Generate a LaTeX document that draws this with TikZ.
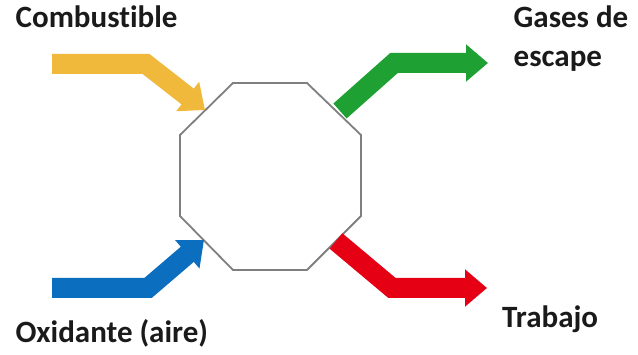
\documentclass[tikz,border=0pt]{standalone}
\usepackage{fontspec}
\setmainfont{Carlito}[Ligatures=NoCommon]
\usetikzlibrary{arrows.meta}
\definecolor{cyellow}{HTML}{F0B93C}
\definecolor{cblue}{HTML}{0B6EBE}
\definecolor{cgreen}{HTML}{1EA032}
\definecolor{cred}{HTML}{E60014}
\definecolor{octgray}{HTML}{7F7F7F}
\definecolor{txt}{HTML}{1A1A1A}
\begin{document}
\begin{tikzpicture}[x=1pt,y=-1pt,
  flow/.style={line width=20pt, line join=miter, -{Triangle[length=22pt,width=36pt]}},
  octo/.style={draw=octgray, line width=1.8pt, line join=miter},
  lbl/.style={font=\fontsize{31}{39}\selectfont\bfseries, text=txt, inner sep=0pt, anchor=base west, align=left}]
\useasboundingbox (0,0) rectangle (638,355);
% octagon
\coordinate (o1) at (233,83);
\coordinate (o2) at (307,83);
\coordinate (o3) at (361,135);
\coordinate (o4) at (361,216);
\coordinate (o5) at (307,270);
\coordinate (o6) at (233,270);
\coordinate (o7) at (180,216);
\coordinate (o8) at (180,135);
\draw[octo] (o1) -- (o2) -- (o3) -- (o4) -- (o5) -- (o6) -- (o7) -- (o8) -- cycle;
% arrows
\coordinate (ys) at (52,64);  \coordinate (yb) at (146,64);  \coordinate (yt) at (205,110);
\coordinate (bs) at (52,288); \coordinate (bb) at (148,288); \coordinate (bt) at (204,240);
\coordinate (gs) at (340,111); \coordinate (gb) at (394,63); \coordinate (gt) at (488,63);
\coordinate (rs) at (336,241); \coordinate (rb) at (392,288); \coordinate (rt) at (487,288);
\draw[flow, cyellow] (ys) -- (yb) -- (yt);
\draw[flow, cblue] (bs) -- (bb) -- (bt);
\draw[flow, cgreen] (gs) -- (gb) -- (gt);
\draw[flow, cred] (rs) -- (rb) -- (rt);
% labels
\node[lbl] (comb) at (15.5,28) {Combustible};
\node[lbl] (gases) at (513.5,67) {Gases de\\escape};
\node[lbl] (oxid) at (15.5,343) {Oxidante (aire)};
\node[lbl] (trab) at (502,328) {Trabajo};
\end{tikzpicture}
\end{document}
